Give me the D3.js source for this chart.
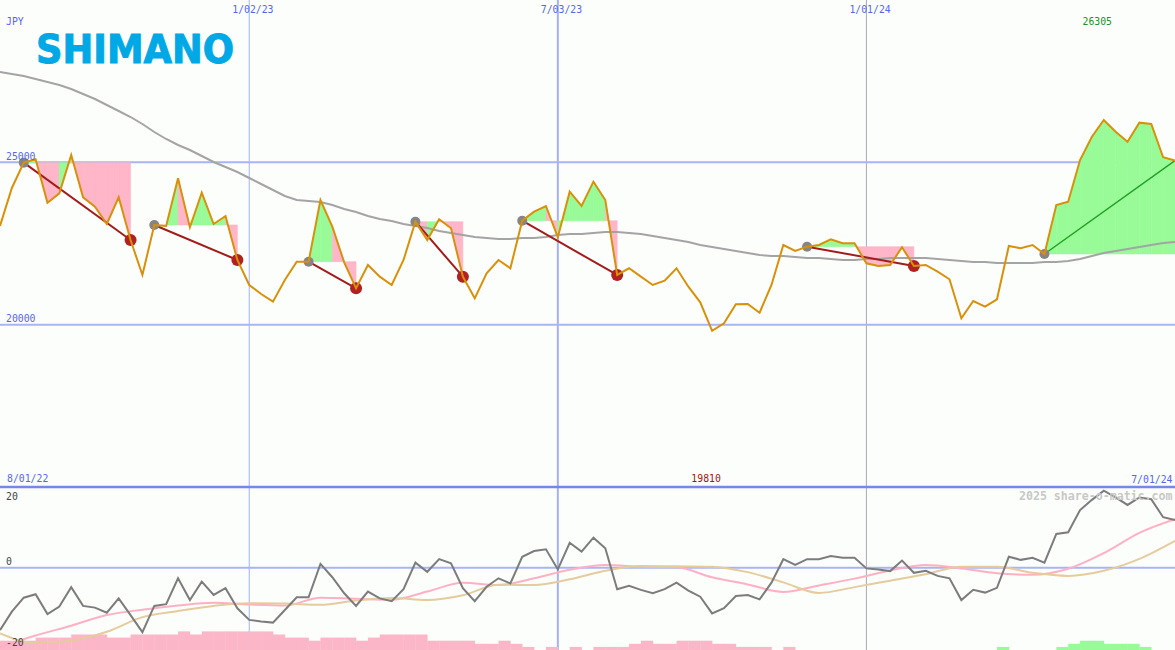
<!DOCTYPE html>
<html><head><meta charset="utf-8">
<script src="https://cdn.jsdelivr.net/npm/d3@7"></script>
<style>html,body{margin:0;padding:0;background:#fcfefc;} svg{display:block;}</style>
</head><body>
<svg id="chart" width="1175" height="650"></svg>
<script>
// ---------- data ----------
const startWeek = "2022-08-08";
const endWeek = "2024-07-01";
const currency = "JPY";
const company = "SHIMANO";

// weekly close (JPY)
const price = [
 23040, 24210, 24990, 25094, 23757, 24046, 25226, 23923, 23634, 23101,
 23923, 22608, 21530, 23070, 23039, 24508, 22999, 24065, 23100, 23347,
 21992, 21222, 20945, 20708, 21376, 21940, 21940, 23840, 23018, 21920,
 21120, 21838, 21478, 21222, 21992, 23172, 22608, 23246, 22968, 21478,
 20812, 21582, 21992, 21736, 23202, 23480, 23655, 22691, 24096, 23655,
 24404, 23840, 21530, 21736, 21478, 21222, 21354, 21736, 21170, 20689,
 19810, 20042, 20627, 20637, 20369, 21222, 22454, 22269, 22402, 22454,
 22630, 22506, 22506, 21890, 21807, 21838, 22383, 21807, 21838, 21632,
 21398, 20196, 20729, 20554, 20782, 22423, 22352, 22454, 22177, 23686,
 23788, 25072, 25790, 26305, 25944, 25636, 26222, 26182, 25156, 25052];

// long moving average (JPY)
const movingAvg = [
 27782, 27721, 27659, 27567, 27474, 27382, 27259, 27105, 26951, 26766,
 26581, 26396, 26181, 25934, 25719, 25534, 25380, 25195, 25010, 24856,
 24702, 24518, 24333, 24148, 23963, 23840, 23809, 23778, 23686, 23563,
 23470, 23347, 23255, 23193, 23101, 23039, 22978, 22885, 22824, 22762,
 22700, 22670, 22639, 22639, 22670, 22670, 22700, 22762, 22793, 22793,
 22824, 22854, 22854, 22824, 22793, 22731, 22670, 22608, 22546, 22454,
 22392, 22331, 22269, 22208, 22146, 22115, 22115, 22084, 22054, 22054,
 22023, 21992, 21992, 22023, 22023, 22054, 22054, 22054, 22054, 22023,
 21992, 21961, 21930, 21930, 21900, 21900, 21900, 21900, 21930, 21930,
 21961, 22023, 22115, 22208, 22269, 22331, 22392, 22454, 22515, 22546];

// lower panel oscillator (weekly)
const oscillator = [
 -18.3, -12.9, -8.8, -7.8, -13.6, -11.4, -5.7, -11.2, -11.7, -13.2,
 -9.0, -13.9, -18.9, -11.2, -10.7, -3.1, -9.5, -4.1, -8.0, -6.0,
 -11.9, -15.3, -15.8, -16.1, -12.4, -8.7, -8.7, 1.1, -2.8, -7.5,
 -11.2, -7.0, -9.0, -9.8, -6.3, 1.5, -1.2, 2.5, 1.3, -6.0,
 -9.8, -5.6, -3.1, -4.6, 3.2, 4.9, 5.4, -0.5, 7.3, 4.7,
 8.8, 5.7, -6.3, -5.3, -6.5, -7.5, -6.3, -4.4, -6.7, -8.5,
 -13.4, -11.9, -8.3, -8.0, -9.3, -4.4, 2.5, 0.8, 2.5, 2.5,
 3.4, 2.9, 2.9, -0.2, -0.5, -1.0, 2.1, -1.5, -0.9, -2.4,
 -3.1, -9.5, -6.5, -7.3, -5.9, 3.2, 2.3, 2.9, 1.5, 9.9,
 10.4, 16.9, 19.9, 22.6, 20.6, 18.4, 20.6, 20.1, 14.8, 14.0];

// smoothed signals, read every 3rd week
const smoothEvery = 3;
const oscPink = [-23.3, -19.9, -17.0, -13.9, -12.3, -11.1, -10.3, -10.8, -11.1, -8.8,
 -9.1, -9.4, -7.0, -4.4, -5.1, -3.1, -0.6, 0.8, 0.3, 0.1,
 -2.8, -4.9, -7.1, -5.2, -3.2, -0.8, 0.8, -0.2, -1.6, -2.1,
 -0.3, 4.3, 10.2, 14.2];
const oscTan = [-19.3, -22.1, -21.4, -18.8, -14.5, -12.7, -11.2, -10.4, -10.5, -10.9,
 -9.6, -8.9, -9.5, -8.1, -5.0, -5.1, -3.4, -0.9, 0.5, 0.4,
 0.3, -1.3, -4.3, -7.4, -5.7, -3.8, -1.9, 0.3, 0.3, -1.5,
 -2.4, -0.9, 2.6, 7.9];

// histogram blocks (signed)
const histogram = [
 -3, -3, -3, -4, -4, -4, -5, -5, -5, -4,
 -4, -5, -5, -5, -5, -6, -5, -6, -6, -6,
 -6, -6, -6, -5, -4, -4, -3, -4, -4, -4,
 -3, -4, -5, -5, -5, -5, -3, -3, -3, -3,
 -2, -2, -3, -2, -1, 0, -1, 0, -1, 0,
 -1, -1, -1, -2, -3, -2, -2, -3, -3, -3,
 -2, -2, -1, -1, -1, 0, -1, 0, 0, 0,
 0, 0, 0, 0, 0, 0, 0, 0, 0, 0,
 0, 0, 0, 0, 1, 0, 0, 0, 0, 1,
 2, 3, 3, 2, 2, 2, 1, 0, 0, 0];

// pattern segments: [start week index, end week index]
const patterns = [[2, 11], [13, 20], [26, 30], [35, 39], [44, 52], [68, 77], [88, 99]];

const gridDates = ["1/02/23", "7/03/23", "1/01/24"];
const priceTicks = [25000, 20000];
const oscTicks = [20, 0, -20];
const rangeLabels = ["8/01/22", "7/01/24"];

// ---------- drawing ----------
const W = 1175, H = 650, split = 487;
const svg = d3.select("#chart");
const parseISO = d3.utcParse("%Y-%m-%d");
const parseUS = d3.utcParse("%m/%d/%y");
const t0 = parseISO(startWeek), t1 = parseISO(endWeek);
const weeks = price.map((_, i) => d3.utcDay.offset(t0, 7 * i));

const x = d3.scaleUtc().domain([t0, t1]).range([0, W]);
const yP = d3.scaleLinear().domain([15000, 30000]).range([split, 0]);
const yO = d3.scaleLinear().domain([-20, 20]).range([635.9, 499.5]);
const hB = d3.scaleLinear().domain([0, 6]).range([0, 18.6]);

const mono = "'DejaVu Sans Mono', 'Liberation Mono', monospace";
const blue = "#5566ee";

svg.append("rect").attr("width", W).attr("height", H).attr("fill", "#fcfefc");

const defs = svg.append("defs");
defs.append("clipPath").attr("id", "clipTop").append("rect").attr("x", 0).attr("y", 0).attr("width", W).attr("height", split);
defs.append("clipPath").attr("id", "clipBot").append("rect").attr("x", 0).attr("y", split).attr("width", W).attr("height", H - split);

// grid
const gridStyle = [{w: 1, c: "#a3b2f5"}, {w: 2, c: "#a3b2f5"}, {w: 1, c: "#a9a9bf"}];
svg.append("g").selectAll("line").data(gridDates).join("line")
  .attr("x1", d => x(parseUS(d))).attr("x2", d => x(parseUS(d)))
  .attr("y1", 0).attr("y2", H)
  .attr("stroke", (d, i) => gridStyle[i].c).attr("stroke-width", (d, i) => gridStyle[i].w);

svg.append("g").selectAll("line").data(priceTicks).join("line")
  .attr("x1", 0).attr("x2", W).attr("y1", d => yP(d)).attr("y2", d => yP(d))
  .attr("stroke", "#a9b5f2").attr("stroke-width", 2);
svg.append("line").attr("x1", 0).attr("x2", W).attr("y1", yO(0)).attr("y2", yO(0))
  .attr("stroke", "#a9b5f2").attr("stroke-width", 2);

// ---------- top panel ----------
const topG = svg.append("g").attr("clip-path", "url(#clipTop)");

// pattern fills
const segArea = (level) => d3.area()
  .x(i => x(weeks[i])).y0(yP(level)).y1(i => yP(price[i]));
patterns.forEach(([s, e]) => {
  const level = price[s];
  for (let k = s; k < e; k++) {
    const col = price[k + 1] >= level ? "#98fb98" : "#ffb6c8";
    topG.append("path")
      .attr("d", segArea(level)([k, k + 1]))
      .attr("fill", col).attr("stroke", col).attr("stroke-width", 0.6);
  }
});

// moving average
topG.append("path").datum(movingAvg)
  .attr("d", d3.line().x((d, i) => x(weeks[i])).y(d => yP(d)))
  .attr("fill", "none").attr("stroke", "#a4a4a4").attr("stroke-width", 2);

// pattern lines and dots
patterns.forEach(([s, e]) => {
  const up = price[e] > price[s];
  topG.append("line")
    .attr("x1", x(weeks[s])).attr("y1", yP(price[s]))
    .attr("x2", x(weeks[e])).attr("y2", yP(price[e]))
    .attr("stroke", up ? "#22a022" : "#a31c1c").attr("stroke-width", up ? 1.5 : 2);
  topG.append("circle").attr("cx", x(weeks[s])).attr("cy", yP(price[s])).attr("r", 5).attr("fill", "#858585");
  if (!up) topG.append("circle").attr("cx", x(weeks[e])).attr("cy", yP(price[e])).attr("r", 6).attr("fill", "#b02222");
});

// price line
topG.append("path").datum(price)
  .attr("d", d3.line().x((d, i) => x(weeks[i])).y(d => yP(d)))
  .attr("fill", "none").attr("stroke", "#d9900a").attr("stroke-width", 2)
  .attr("stroke-linejoin", "miter");

// logo
svg.append("text").attr("x", 36).attr("y", 63)
  .attr("font-family", "'DejaVu Sans', sans-serif").attr("font-weight", "bold")
  .attr("font-size", 38.5).attr("fill", "#00a8e6")
  .attr("stroke", "#00a8e6").attr("stroke-width", 1)
  .attr("textLength", 198).attr("lengthAdjust", "spacingAndGlyphs")
  .text(company);

// ---------- bottom panel ----------
const botG = svg.append("g").attr("clip-path", "url(#clipBot)");

botG.append("g").selectAll("rect").data(histogram).join("rect")
  .attr("x", (d, i) => x(weeks[i]))
  .attr("width", (d, i) => x(d3.utcDay.offset(weeks[i], 7)) - x(weeks[i]) + 0.3)
  .attr("y", d => H - hB(Math.abs(d)))
  .attr("height", d => hB(Math.abs(d)))
  .attr("fill", d => d < 0 ? "#fbb6c8" : "#98fb98");

// watermark
svg.append("text").attr("x", 1172.5).attr("y", 500).attr("text-anchor", "end")
  .attr("font-family", mono).attr("font-weight", "bold").attr("font-size", 11.6)
  .attr("fill", "#c8c8c8").text("2025 share-o-matic.com");

const smoothLine = d3.line().curve(d3.curveMonotoneX)
  .x((d, i) => x(weeks[i * smoothEvery])).y(d => yO(d));
botG.append("path").datum(oscPink).attr("d", smoothLine)
  .attr("fill", "none").attr("stroke", "#ffb0c4").attr("stroke-width", 2);
botG.append("path").datum(oscTan).attr("d", smoothLine)
  .attr("fill", "none").attr("stroke", "#e4cc9c").attr("stroke-width", 2);
botG.append("path").datum(oscillator)
  .attr("d", d3.line().x((d, i) => x(weeks[i])).y(d => yO(d)))
  .attr("fill", "none").attr("stroke", "#7c7c7c").attr("stroke-width", 2);

// panel separator
svg.append("line").attr("x1", 0).attr("x2", W).attr("y1", split).attr("y2", split)
  .attr("stroke", "#7886e6").attr("stroke-width", 2.5);

// ---------- labels ----------
const txt = (s, xx, yy, color, anchor) => svg.append("text")
  .attr("x", xx).attr("y", yy).attr("fill", color)
  .attr("text-anchor", anchor || "start")
  .attr("font-family", mono).attr("font-size", 9.8).text(s);

txt(currency, 6, 24.7, blue);
gridDates.forEach(d => txt(d, x(parseUS(d)) - 17, 12.8, blue));
priceTicks.forEach(t => txt(String(t), 6, yP(t) - 2.3, blue));

const iMax = price.indexOf(d3.max(price));
const iMin = price.indexOf(d3.min(price));
txt(String(price[iMax]), x(weeks[iMax]) - 6.5, 24.5, "#22902a", "middle");
txt(String(price[iMin]), x(weeks[iMin]) - 6, 482, "#a01414", "middle");

txt(rangeLabels[0], 7, 482, blue);
txt(rangeLabels[1], 1172.5, 482.5, blue, "end");

const oscLabelY = {"20": 499.5, "0": 565, "-20": 645.5};
oscTicks.forEach(t => txt(String(t), 6, oscLabelY[String(t)], "#444444"));
</script>
</body></html>
